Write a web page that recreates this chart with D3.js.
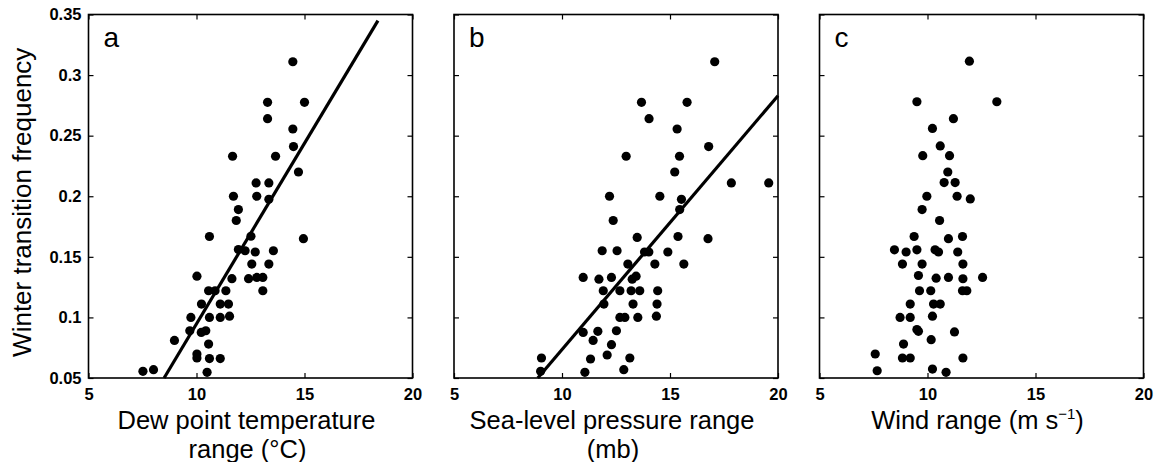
<!DOCTYPE html>
<html>
<head>
<meta charset="utf-8">
<script src="https://cdn.jsdelivr.net/npm/d3@7"></script>
<style>
  body { margin: 0; background: #fff; }
  svg { display: block; font-family: "Liberation Sans", Arial, Helvetica, sans-serif; }
  .tick text { font-size: 16.5px; font-weight: bold; fill: #000; }
  .tick line { stroke: #000; stroke-width: 1.2; }
</style>
</head>
<body>
<div class="chart"></div>
<script>
// data
var xTicks = [5, 10, 15, 20];
var yTicks = [0.05, 0.1, 0.15, 0.2, 0.25, 0.3, 0.35];
var yTickLabels = ["0.05", "0.1", "0.15", "0.2", "0.25", "0.3", "0.35"];
var panelLetters = ["a", "b", "c"];

// a: dew point temperature range
var dewX = [7.52, 8.01, 8.98, 10.02, 9.74, 9.69, 10.23, 10.22, 10.43, 10.02, 10.02, 10.56, 10.6, 10.49,
  11.1, 10.6, 10.56, 10.6, 10.86, 11.1, 11.1, 11.36, 11.48, 11.53, 11.64, 11.67, 11.71, 11.94, 11.84,
  11.94, 12.25, 12.52, 12.56, 12.41, 12.72, 12.76, 12.79, 12.79, 13.07, 13.07, 13.29, 13.29, 13.35,
  13.35, 13.35, 13.56, 13.66, 14.46, 14.46, 14.49, 14.72, 15.0, 14.95];
var dewY = [0.0555, 0.0569, 0.081, 0.134, 0.1, 0.089, 0.111, 0.0876, 0.089, 0.0698, 0.0665, 0.078, 0.066, 0.0547,
  0.066, 0.1668, 0.122, 0.1, 0.122, 0.111, 0.1, 0.122, 0.111, 0.101, 0.132, 0.233, 0.2, 0.189, 0.18,
  0.156, 0.155, 0.167, 0.144, 0.132, 0.154, 0.211, 0.2, 0.133, 0.133, 0.122, 0.2775, 0.264, 0.211,
  0.1975, 0.144, 0.155, 0.233, 0.311, 0.2555, 0.241, 0.22, 0.2775, 0.165];
var dewFitX = [8.5, 18.4];
var dewFitY = [0.05, 0.345];

// b: sea-level pressure range
var slpX = [9.05, 9.01, 10.98, 10.98, 11.06, 11.32, 11.44, 11.66, 11.71, 11.86, 11.91, 11.94, 12.09, 12.2,
  12.29, 12.29, 12.37, 12.52, 12.55, 12.68, 12.68, 12.86, 12.91, 12.97, 13.05, 13.14, 13.2, 13.25, 13.43,
  13.29, 13.48, 13.51, 13.6, 13.68, 13.82, 14.02, 14.03, 14.3, 14.37, 14.4, 14.43, 14.53, 14.9, 15.22,
  15.33, 15.37, 15.44, 15.45, 15.53, 15.64, 15.79, 16.76, 16.79, 17.07, 17.84, 19.57];
var slpY = [0.0665, 0.0555, 0.133, 0.0876, 0.0547, 0.0657, 0.081, 0.0885, 0.1316, 0.155, 0.122, 0.111, 0.069, 0.2,
  0.0775, 0.133, 0.18, 0.089, 0.155, 0.122, 0.1, 0.0569, 0.1, 0.233, 0.144, 0.0665, 0.122, 0.1316, 0.134,
  0.111, 0.166, 0.1, 0.122, 0.2775, 0.154, 0.154, 0.264, 0.144, 0.101, 0.111, 0.122, 0.2, 0.154, 0.22,
  0.2555, 0.1668, 0.233, 0.189, 0.1975, 0.144, 0.2775, 0.165, 0.241, 0.311, 0.211, 0.211];
var slpFitX = [8.88, 20];
var slpFitY = [0.05, 0.283];

// c: wind range
var windX = [7.58, 7.67, 8.47, 8.84, 8.73, 8.89, 8.84, 9.2, 9.01, 9.2, 9.2, 9.38, 9.51, 9.51, 9.51, 9.58,
  9.58, 9.63, 9.75, 9.75, 9.78, 9.97, 10.15, 10.23, 10.17, 10.23, 10.23, 10.28, 10.35, 10.4, 10.51, 10.56,
  10.59, 10.59, 10.77, 10.86, 10.94, 10.97, 10.97, 11.02, 11.2, 11.25, 11.28, 11.37, 11.4, 11.62, 11.64,
  11.64, 11.62, 11.82, 11.64, 11.94, 11.98, 12.55, 13.21];
var windY = [0.0698, 0.056, 0.1558, 0.144, 0.1, 0.078, 0.0665, 0.0665, 0.154, 0.111, 0.1, 0.1668, 0.1558, 0.278, 0.09, 0.0885,
  0.1346, 0.122, 0.144, 0.189, 0.2335, 0.2, 0.122, 0.101, 0.0816, 0.256, 0.0574, 0.111, 0.1558, 0.1324, 0.154, 0.18,
  0.111, 0.2415, 0.2113, 0.0547, 0.22, 0.165, 0.133, 0.2335, 0.264, 0.088, 0.2113, 0.2, 0.154, 0.1668, 0.144,
  0.1319, 0.122, 0.122, 0.0665, 0.3115, 0.1978, 0.133, 0.278];

var panels = [
  {letter: panelLetters[0], xs: dewX, ys: dewY, fitX: dewFitX, fitY: dewFitY, title: ["Dew point temperature", "range (°C)"]},
  {letter: panelLetters[1], xs: slpX, ys: slpY, fitX: slpFitX, fitY: slpFitY, title: ["Sea-level pressure range", "(mb)"]},
  {letter: panelLetters[2], xs: windX, ys: windY, fitX: null, fitY: null, title: ["Wind range (m s", ")"]}
];

// graph
var generalWidth = 1158,
    generalHeight = 462,
    margin = {top: 14.5, left: 88.5},
    width = 324,
    height = 363.5,
    gap = 41.5;

var svg = d3.select("body").select(".chart").append("svg")
    .attr("width", generalWidth)
    .attr("height", generalHeight);

var x = d3.scaleLinear().domain([5, 20]).range([0, width]);
var y = d3.scaleLinear().domain([0.05, 0.35]).range([height, 0]);

var line = d3.line()
    .x(d => x(d[0]))
    .y(d => y(d[1]));

panels.forEach(function(p, i) {
  var g = svg.append("g")
      .attr("transform", "translate(" + (margin.left + i * (width + gap)) + "," + margin.top + ")");

  // ticks inside on all four sides
  g.append("g")
      .call(d3.axisLeft(y).tickValues(yTicks).tickSizeInner(-5).tickSizeOuter(0).tickPadding(7)
        .tickFormat((d, k) => i === 0 ? yTickLabels[k] : ""));
  g.append("g")
      .attr("transform", "translate(" + width + ",0)")
      .call(d3.axisRight(y).tickValues(yTicks).tickSizeInner(-5).tickSizeOuter(0).tickFormat(""));
  g.append("g")
      .attr("transform", "translate(0," + height + ")")
      .call(d3.axisBottom(x).tickValues(xTicks).tickSizeInner(-5).tickSizeOuter(0).tickPadding(10)
        .tickFormat(d3.format("d")));
  g.append("g")
      .call(d3.axisTop(x).tickValues(xTicks).tickSizeInner(-5).tickSizeOuter(0).tickFormat(""));
  g.selectAll(".domain").remove();

  // frame
  g.append("rect")
      .attr("width", width)
      .attr("height", height)
      .attr("fill", "none")
      .attr("stroke", "#000")
      .attr("stroke-width", 1.6);

  g.selectAll(".dot")
      .data(p.xs.map((v, k) => [v, p.ys[k]]))
    .enter().append("circle")
      .attr("class", "dot")
      .attr("cx", d => x(d[0]))
      .attr("cy", d => y(d[1]))
      .attr("r", 4.6)
      .attr("fill", "#000");

  if (p.fitX) {
    g.append("path")
        .datum(p.fitX.map((v, k) => [v, p.fitY[k]]))
        .attr("d", line)
        .attr("fill", "none")
        .attr("stroke", "#000")
        .attr("stroke-width", 3.2);
  }

  g.append("text")
      .attr("x", 15)
      .attr("y", 32.5)
      .style("font-size", "28px")
      .text(p.letter);

  // x title
  var t = g.append("text")
      .attr("text-anchor", "middle")
      .attr("x", width / 2 - 4)
      .attr("y", height + 51)
      .style("font-size", "25.5px");
  if (i < 2) {
    t.text(p.title[0]);
    g.append("text")
        .attr("text-anchor", "middle")
        .attr("x", width / 2 - 3)
        .attr("y", height + 80)
        .style("font-size", "25.5px")
        .text(p.title[1]);
  } else {
    t.append("tspan").text(p.title[0]);
    t.append("tspan").attr("dy", -10).style("font-size", "15px").text("−1");
    t.append("tspan").attr("dy", 10).text(p.title[1]);
  }
});

// y title
svg.append("text")
    .attr("text-anchor", "middle")
    .attr("transform", "translate(31," + (margin.top + height / 2 + 6) + ") rotate(-90)")
    .style("font-size", "26px")
    .text("Winter transition frequency");
</script>
</body>
</html>
